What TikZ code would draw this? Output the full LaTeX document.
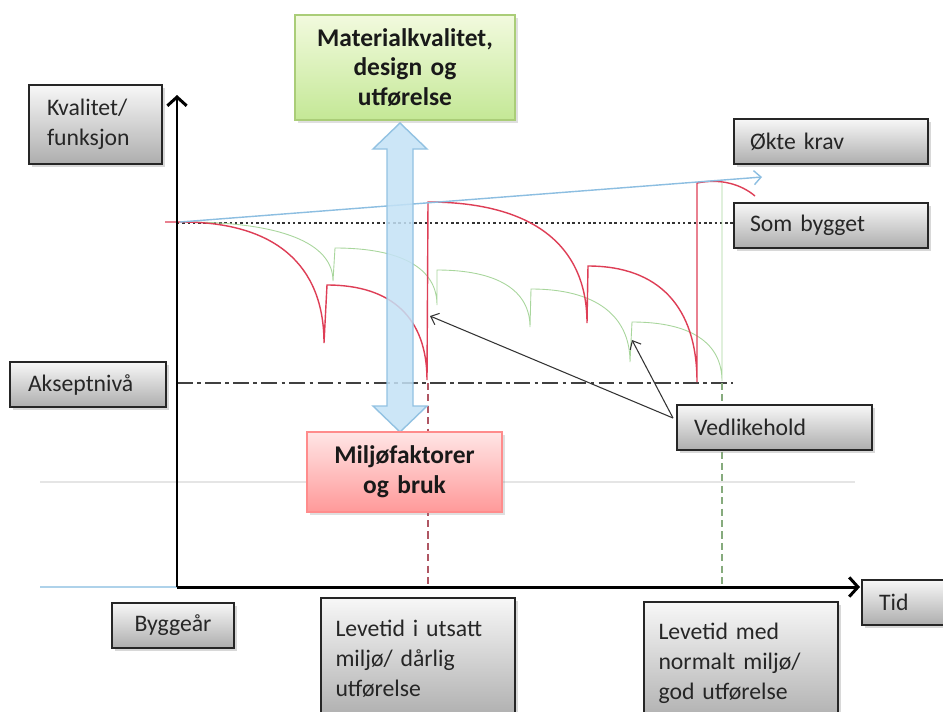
\documentclass[tikz,border=0pt]{standalone}
\usepackage{fontspec}
\setmainfont{Carlito}
\usetikzlibrary{positioning, arrows.meta, shadows}
\definecolor{wearred}{RGB}{222,62,86}
\definecolor{weargreen}{RGB}{168,214,156}
\definecolor{demandblue}{RGB}{140,190,225}
\definecolor{flowfill}{RGB}{196,226,246}
\definecolor{flowdraw}{RGB}{146,194,226}
\definecolor{matdraw}{RGB}{170,205,120}
\definecolor{mattop}{RGB}{242,250,222}
\definecolor{matbot}{RGB}{196,232,150}

\begin{document}
\begin{tikzpicture}[x=0.02cm,y=-0.02cm,
    lbl/.style={draw=black!85, line width=0.7pt, top color=black!3, bottom color=black!32,
      drop shadow={shadow xshift=1.5pt,shadow yshift=-1.5pt,opacity=0.3},
      font=\fontsize{13.5}{17}\selectfont, text=black!85, inner sep=0pt, align=left,
      minimum height=0.9cm},
    factor/.style={line width=0.6pt, font=\bfseries\fontsize{14.5}{17}\selectfont, text=black!90,
      inner sep=0pt, align=center,
      drop shadow={shadow xshift=1.5pt,shadow yshift=-1.5pt,opacity=0.25}},
    wear/.style={wearred, line width=0.8pt},
    wearok/.style={weargreen, line width=0.5pt},
    pointer/.style={-{Straight Barb[length=4pt,width=7pt]}, black!80, line width=0.6pt},
    axis/.style={line width=1.7pt, -{Straight Barb[length=5pt,width=11pt]}}]

  \useasboundingbox (0,0) rectangle (943,711);
  \clip (0,0) rectangle (943,711);
  \fill[white] (0,0) rectangle (943,711);

  \coordinate (o) at (177,587);
  \coordinate (y_end) at (177,95);
  \coordinate (x_end) at (860,587);
  \coordinate (start) at (180,222);
  \coordinate (krav_end) at (762,177);
  \coordinate (fix_a) at (430,316);
  \coordinate (fix_b) at (632,340);
  \coordinate (v_foot) at (673,418);

  \draw[black!10, line width=0.8pt] (40,482) -- (855,482);
  \draw[demandblue!70, line width=1pt] (40,587) -- (o);

  \draw[black!80, line width=0.9pt, dash pattern=on 1.4pt off 1.6pt] (177,223) -- (734,223);
  \draw[black!75, line width=1pt, dash pattern=on 9pt off 2.5pt on 2pt off 2.5pt] (177,383) -- (733,383);
  \draw[wearred!70!black!80, line width=0.6pt, dash pattern=on 4pt off 2.5pt] (428,383) -- (428,587);
  \draw[weargreen!80!black, line width=0.6pt, dash pattern=on 4pt off 2.5pt] (722,383) -- (722,587);

  \draw[wearok] (185,222) .. controls (281,222) and (333,243) .. (333,281) -- (335,248)
    .. controls (401,248) and (437,268) .. (437,305) -- (437,270)
    .. controls (497,270) and (530,290) .. (530,327) -- (531,289)
    .. controls (595,289) and (630,315) .. (630,362) -- (632,322)
    .. controls (691,322) and (722,343) .. (722,381) -- (722,183);

  \draw[wear] (165,222) -- (182,222) .. controls (274,222) and (324,264) .. (324,343) -- (327,285)
    .. controls (392,285) and (427,318) .. (427,380) -- (428,202)
    .. controls (531,202) and (587,244) .. (587,323) -- (588,266)
    .. controls (659,266) and (697,307) .. (697,382) -- (697,183)
    .. controls (722,178) and (742,185) .. (755,196);

  \draw[demandblue, line width=0.8pt, -{Straight Barb[length=4pt,width=8pt]}] (start) -- (krav_end);

  \filldraw[fill=flowfill, draw=flowdraw, fill opacity=0.85, line width=0.8pt]
    (400,123) -- (427,149) -- (413,149) -- (413,406) -- (427,406) -- (400,432)
    -- (373,406) -- (387,406) -- (387,149) -- (373,149) -- cycle;

  \draw[pointer] (v_foot) -- (fix_a);
  \draw[pointer] (v_foot) -- (fix_b);

  \node[lbl, minimum width=2.66cm, minimum height=1.58cm, text width=1.94cm] (b_kval) at (95.5,124.5) {Kvalitet/\\funksjon};
  \node[factor, draw=matdraw, top color=mattop, bottom color=matbot,
    minimum width=4.4cm, minimum height=2.1cm, text width=4.2cm] (b_mat) at (405,67.5) {Materialkvalitet,\\design og\\utførelse};
  \node[lbl, minimum width=3.88cm, text width=3.24cm] (b_okte) at (831,141.5) {Økte krav};
  \node[lbl, minimum width=3.88cm, text width=3.24cm] (b_som) at (831,225.5) {Som bygget};
  \node[lbl, minimum width=3.12cm, text width=2.4cm] (b_aksept) at (88,384.5) {Akseptnivå};
  \node[factor, draw=red!45, top color=red!10, bottom color=red!40,
    minimum width=3.9cm, minimum height=1.6cm, text width=3.7cm] (b_milj) at (404.5,472) {Miljøfaktorer\\og bruk};
  \node[lbl, minimum width=3.9cm, text width=3.22cm] (b_vedl) at (774.5,427.5) {Vedlikehold};
  \node[lbl, minimum width=1.96cm, text width=1.28cm] (b_tid) at (911,602.5) {Tid};
  \node[lbl, minimum width=2.44cm, text width=2.44cm, align=center] (b_bygg) at (173,625.5) {Byggeår};
  \node[lbl, minimum width=3.88cm, minimum height=2.44cm, text width=3.3cm] (b_lev1) at (418,659) {Levetid i utsatt\\miljø/ dårlig\\utførelse};
  \node[lbl, minimum width=3.88cm, minimum height=2.44cm, text width=3.3cm] (b_lev2) at (741,663) {Levetid med\\normalt miljø/\\god utførelse};

  \draw[axis] (o) -- (y_end);
  \draw[axis] (o) -- (x_end);
\end{tikzpicture}
\end{document}
